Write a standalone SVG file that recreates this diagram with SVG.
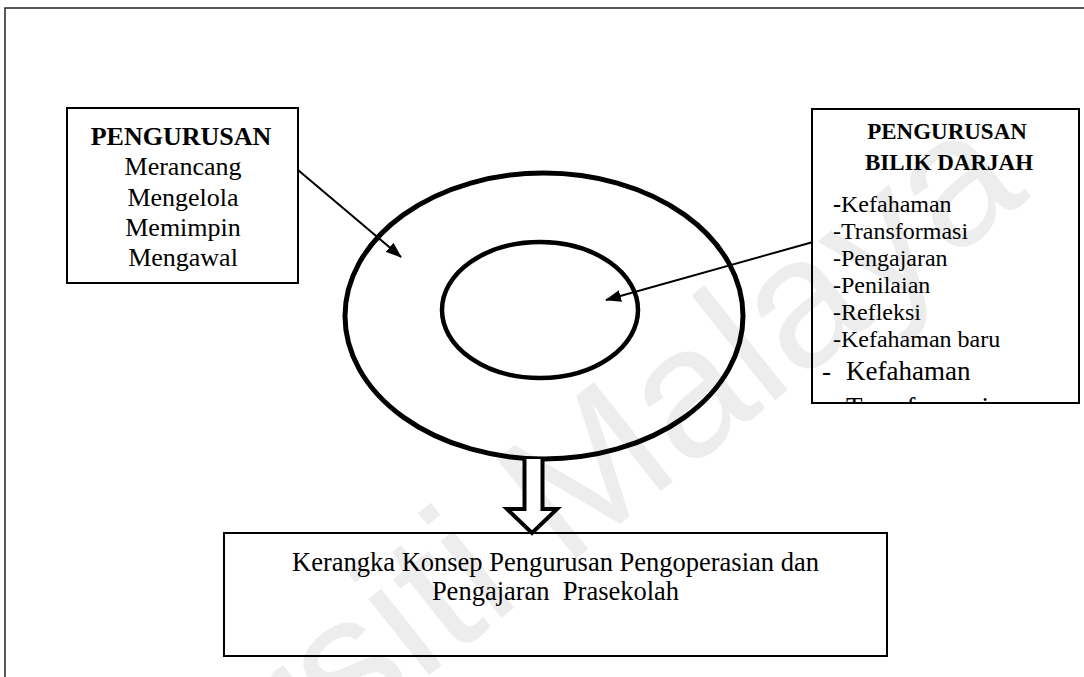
<svg xmlns="http://www.w3.org/2000/svg" width="1084" height="677" viewBox="0 0 1084 677">
  <style>
    .serif { font-family: "Liberation Serif", "Times New Roman", serif; fill: #000; }
    .bold { font-weight: bold; }
    .box { fill: none; stroke: #000; stroke-width: 2; }
    .ring { fill: none; stroke: #000; }
    .conn { stroke: #000; stroke-width: 2; fill: none; }
    .wm { font-family: "Liberation Sans", Arial, sans-serif; fill: #ededed; }
  </style>
  <defs>
    <marker id="arrow" markerUnits="userSpaceOnUse" markerWidth="16" markerHeight="12" refX="15" refY="6" orient="auto">
      <path d="M0,0 L16,6 L0,12 z" fill="#000"/>
    </marker>
    <clipPath id="rightClip">
      <rect x="813" y="110" width="265" height="292"/>
    </clipPath>
  </defs>
  <rect width="1084" height="677" fill="#fff"/>

  <g id="watermark">
    <text class="wm" x="0" y="0" font-size="185" text-anchor="middle" dominant-baseline="central" transform="translate(440,585) rotate(-38.5)">Universiti Malaya</text>
  </g>

  <g id="frame">
    <path d="M5,677 L5,8 L1084,8" fill="none" stroke="#222" stroke-width="1.5"/>
  </g>

  <g id="node-pengurusan">
    <rect class="box" x="67" y="108" width="231" height="175"/>
    <text class="serif bold" x="181" y="145" font-size="26" text-anchor="middle">PENGURUSAN</text>
    <text class="serif" x="183" y="175" font-size="26" text-anchor="middle">Merancang</text>
    <text class="serif" x="183" y="206" font-size="26" text-anchor="middle">Mengelola</text>
    <text class="serif" x="183" y="236" font-size="26" text-anchor="middle">Memimpin</text>
    <text class="serif" x="183" y="266" font-size="26" text-anchor="middle">Mengawal</text>
  </g>

  <g id="node-outer-ring">
    <ellipse class="ring" cx="544" cy="316" rx="199" ry="143" stroke-width="5"/>
  </g>
  <g id="node-inner-ring">
    <ellipse class="ring" cx="540" cy="310" rx="98" ry="68" stroke-width="4.5"/>
  </g>

  <g id="node-bilik-darjah">
    <rect class="box" x="812" y="109" width="267" height="294"/>
    <text class="serif bold" x="947" y="139" font-size="23" text-anchor="middle">PENGURUSAN</text>
    <text class="serif bold" x="949" y="170" font-size="23" text-anchor="middle">BILIK DARJAH</text>
    <g clip-path="url(#rightClip)">
      <text class="serif" x="833" y="212" font-size="24"><tspan font-weight="bold">-</tspan>Kefahaman</text>
      <text class="serif" x="833" y="239" font-size="24">-Transformasi</text>
      <text class="serif" x="833" y="266" font-size="24">-Pengajaran</text>
      <text class="serif" x="833" y="293" font-size="24">-Penilaian</text>
      <text class="serif" x="833" y="320" font-size="24">-Refleksi</text>
      <text class="serif" x="833" y="347" font-size="24">-Kefahaman baru</text>
      <text class="serif" y="380" font-size="27"><tspan x="822">-</tspan><tspan x="846">Kefahaman</tspan></text>
      <text class="serif" y="416" font-size="27"><tspan x="822">-</tspan><tspan x="846">Transformasi</tspan></text>
    </g>
  </g>

  <g id="node-kerangka">
    <rect class="box" x="224" y="533" width="663" height="123" stroke-width="2.5"/>
    <text class="serif" x="555.5" y="571" font-size="26.5" text-anchor="middle">Kerangka Konsep Pengurusan Pengoperasian dan</text>
    <text class="serif" x="555.5" y="600" font-size="26.5" text-anchor="middle" xml:space="preserve">Pengajaran  Prasekolah</text>
  </g>

  <g id="connectors">
    <line class="conn" x1="298" y1="170" x2="401" y2="257" marker-end="url(#arrow)"/>
    <line class="conn" x1="813" y1="242" x2="606" y2="300" marker-end="url(#arrow)"/>
    <path d="M524.5,459 L524.5,509 L507,509 L532,533 L557,509 L542.5,509 L542.5,459" fill="#fff" stroke="#000" stroke-width="4" stroke-linejoin="miter"/>
  </g>
</svg>
